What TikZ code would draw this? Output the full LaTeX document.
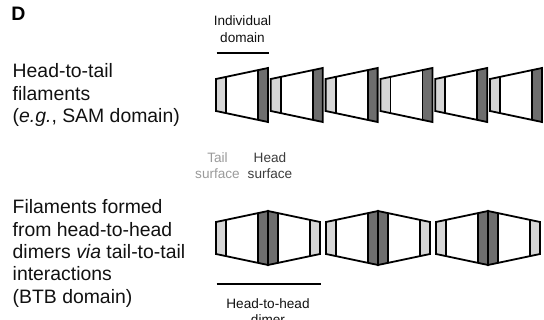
\documentclass[tikz,border=0pt]{standalone}
\usepackage{fontspec}
\setmainfont{Liberation Sans}
\definecolor{tailfill}{HTML}{D6D6D6}
\definecolor{headfill}{HTML}{6E6E6E}
\definecolor{tailtext}{HTML}{9A9A9A}
\definecolor{headtext}{HTML}{3C3C3C}
\definecolor{inktext}{HTML}{111111}
\begin{document}
\begin{tikzpicture}[x=1pt,y=-1pt,
  big/.style={font=\fontsize{19.4}{22.4}\selectfont, align=left, anchor=base west, inner sep=0pt, text=inktext},
  small/.style={font=\fontsize{13.6}{16.5}\selectfont, align=center, anchor=base, inner sep=0pt, text=inktext},
  outline/.style={line width=1.8pt, line join=miter},
  bracket/.style={line width=1.6pt},
  dom/.pic={
    \fill[tailfill] (0,-16) -- (10,-18.12) -- (10,18.12) -- (0,16) -- cycle;
    \fill[headfill] (42,-24.88) -- (52,-27) -- (52,27) -- (42,24.88) -- cycle;
    \draw[outline] (0,-16) -- (52,-27) -- (52,27) -- (0,16) -- cycle;
    \draw[outline] (10,-18.12) -- (10,18.12);
    \draw[outline] (42,-24.88) -- (42,24.88);
  }]
\useasboundingbox (0,0) rectangle (544,320);

% panel letter
\node[font=\bfseries\fontsize{19.5}{20}\selectfont, anchor=base west, inner sep=0pt] (D) at (11.3,20.7) {D};

% left labels (multi-line nodes: base anchor = last line)
\node[big] (toplabel) at (12.5,122.7) {Head-to-tail\\filaments\\(\textit{e.g.}, SAM domain)};
\node[big] (botlabel) at (12.5,303.3) {Filaments formed\\from head-to-head\\dimers \textit{via} tail-to-tail\\interactions\\(BTB domain)};

% top row: head-to-tail filament
\foreach \i in {0,...,5}
  \pic (t\i) at ({216+54.8*\i},95) {dom};

% bottom row: head-to-head dimers
\foreach \i in {0,1,2} {
  \pic (bl\i) at ({216+110*\i},238) {dom};
  \pic[xscale=-1] (br\i) at ({320+110*\i},238) {dom};
}

% individual domain bracket
\coordinate (ida) at (216.5,53.3);
\coordinate (idb) at (269,53.3);
\draw[bracket] (ida) -- (idb);
\node[small] (indiv) at (242.5,42.3) {Individual\\domain};

% surface labels
\node[small, text=tailtext] (tailsurf) at (217.5,179) {Tail\\surface};
\node[small, text=headtext] (headsurf) at (270,179) {Head\\surface};

% head-to-head dimer bracket
\coordinate (hha) at (216.5,284.3);
\coordinate (hhb) at (321,284.3);
\draw[bracket] (hha) -- (hhb);
\node[small] (hhlabel) at (268,324.8) {Head-to-head\\dimer};
\end{tikzpicture}
\end{document}
